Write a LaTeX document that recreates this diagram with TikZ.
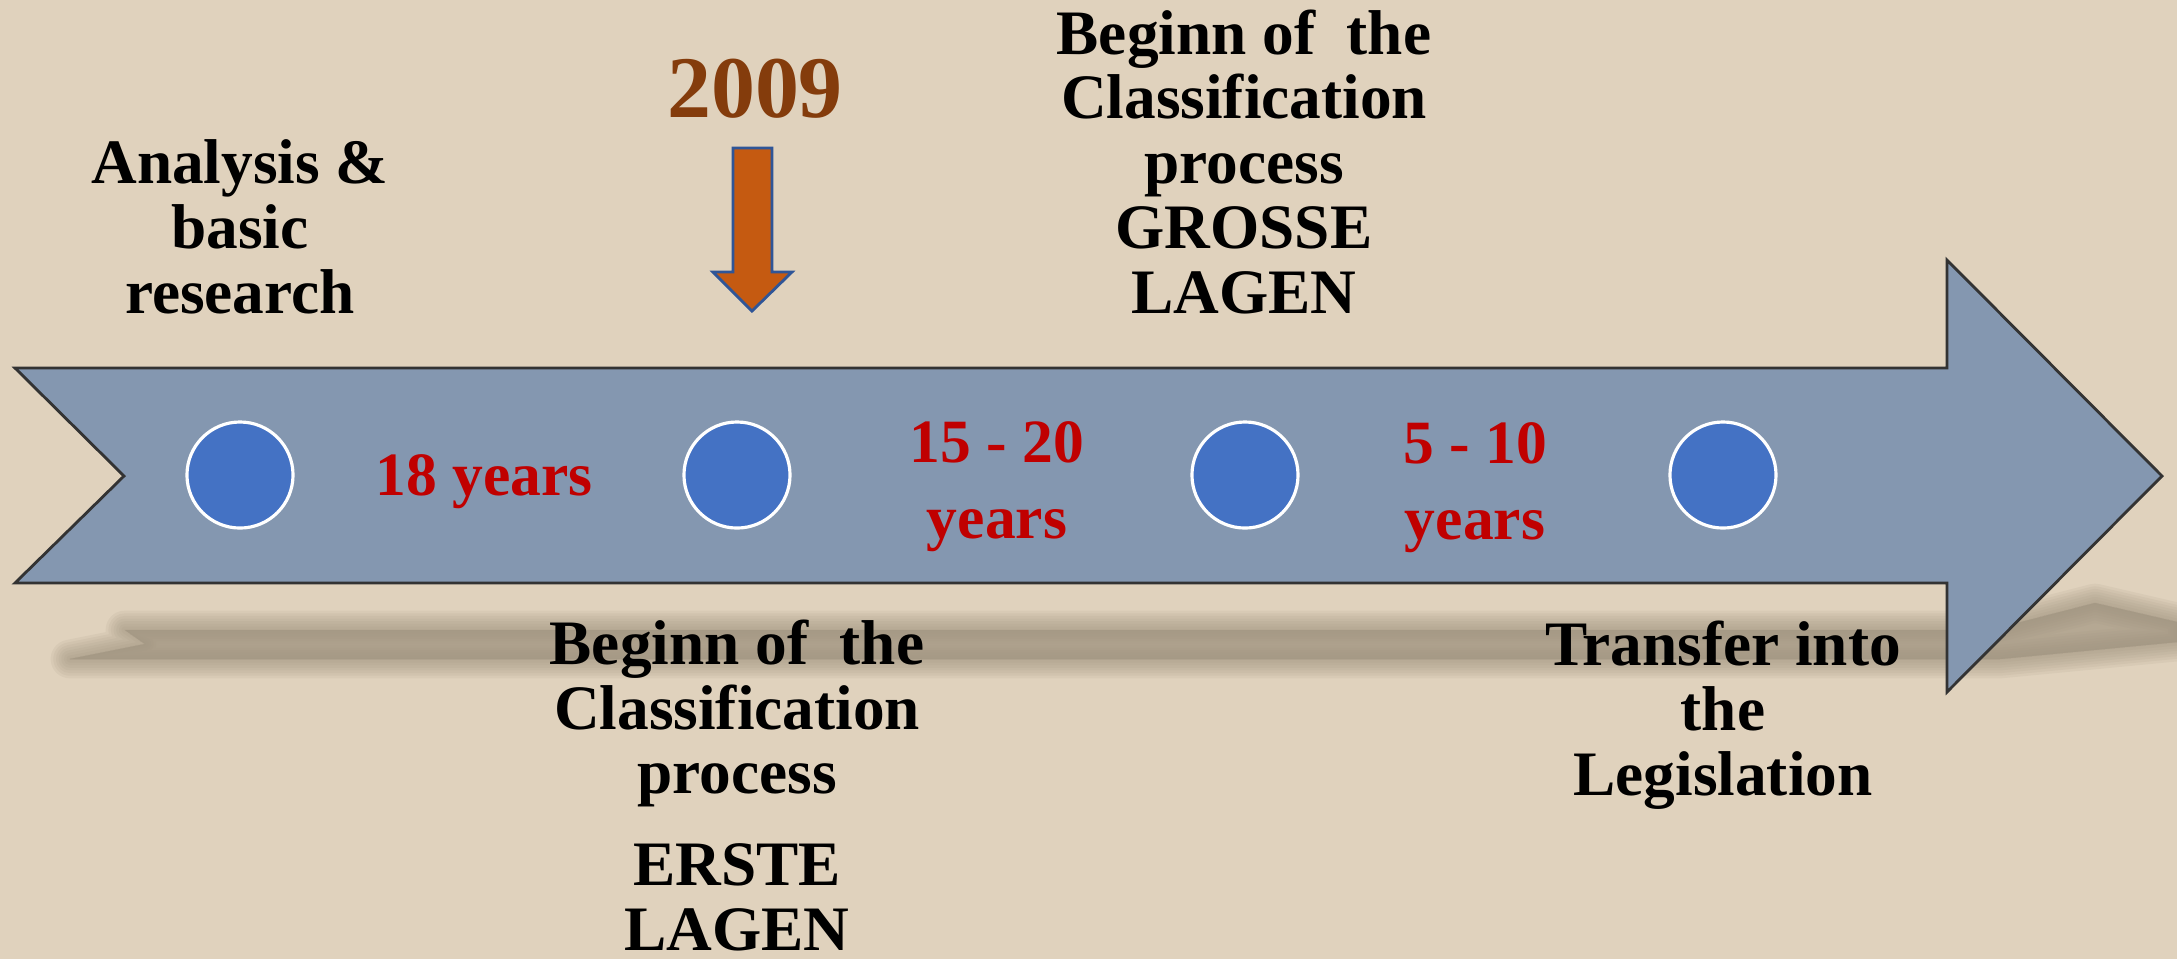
\documentclass[tikz,border=0pt]{standalone}
\usepackage{fontspec}
\setmainfont{Liberation Serif}
\definecolor{bgc}{HTML}{E0D2BD}
\definecolor{arrowc}{HTML}{8497B0}
\definecolor{edgec}{HTML}{333333}
\definecolor{dotc}{HTML}{4472C4}
\definecolor{redc}{HTML}{C00000}
\definecolor{brownc}{HTML}{843C0C}
\definecolor{orangec}{HTML}{C55A11}
\definecolor{blueedge}{HTML}{2F5597}
\definecolor{shadowc}{HTML}{A09480}
\tikzset{
  lbl/.style={font=\bfseries\fontsize{18}{18.4}\selectfont, align=center, inner sep=0pt, text=black},
  redlbl/.style={font=\bfseries\fontsize{17.5}{21.6}\selectfont, align=center, inner sep=0pt, text=redc},
  dot/.style={circle, fill=dotc, draw=white, line width=0.9pt, minimum size=1.06cm, inner sep=0pt},
  bigarrow/.style={fill=arrowc, draw=edgec, line width=0.8pt, line join=miter},
  yeararrow/.style={fill=orangec, draw=blueedge, line width=0.8pt, line join=miter},
  shadowlayer/.style={fill=shadowc, draw=shadowc, line join=round, opacity=0.12}
}
\begin{document}
\begin{tikzpicture}[x=0.01cm, y=-0.01cm]
\useasboundingbox (0,0) rectangle (2177,959);
\fill[bgc] (0,0) rectangle (2177,959);
% shadow (soft, layered)
\foreach \w in {11,9.5,8,6.5,5,3.5,2,0.5} {
  \path[shadowlayer, line width=\w pt]
    (125,630) -- (1990,630) -- (2095,603) -- (2177,622) -- (2177,642)
    -- (2000,659) -- (70,659) -- (145,644) -- cycle;
}
% main arrow
\path[bigarrow] (15,368) -- (1947,368) -- (1947,260) -- (2162,476)
  -- (1947,692) -- (1947,583) -- (15,583) -- (124,476) -- cycle;
% dots
\node[dot] (c1) at (240,475) {};
\node[dot] (c2) at (737,475) {};
\node[dot] (c3) at (1245,475) {};
\node[dot] (c4) at (1723,475) {};
% 2009 arrow
\node[font=\bfseries\fontsize{25}{25}\selectfont, text=brownc, inner sep=0pt, anchor=base] (yr) at (755,117) {2009};
\path[yeararrow] (733,148) -- (772,148) -- (772,272) -- (792,272) -- (752,311)
  -- (713,272) -- (733,272) -- cycle;
% labels (anchor=base is the baseline of the last line)
\node[lbl, anchor=base] (t1) at (240,313) {Analysis \&\\basic\\research};
\node[lbl, anchor=base] (t2) at (1244,313) {Beginn of\ \ the\\Classification\\process\\GROSSE\\LAGEN};
\node[lbl, anchor=base] (t3) at (737,950) {Beginn of\ \ the\\Classification\\process\\[7.6pt]ERSTE\\LAGEN};
\node[lbl, anchor=base] (t4) at (1723,795) {Transfer into\\the\\Legislation};
\node[redlbl, anchor=base] (y1) at (484,495) {18 years};
\node[redlbl, anchor=base] (y2) at (997,538) {15 - 20\\years};
\node[redlbl, anchor=base] (y3) at (1475,539) {5 - 10\\years};
\end{tikzpicture}
\end{document}
